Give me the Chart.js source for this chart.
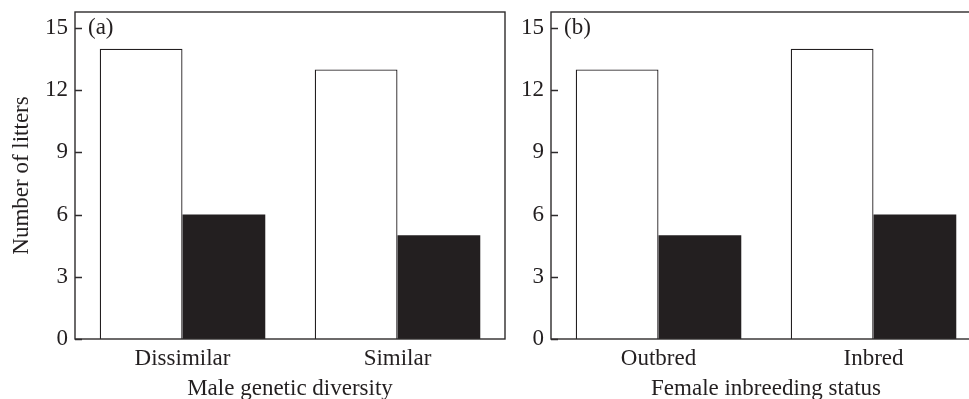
<!DOCTYPE html>
<html>
<head>
<meta charset="utf-8">
<script src="https://cdn.jsdelivr.net/npm/chart.js@4.4.1/dist/chart.umd.min.js"></script>
<style>
    html, body { margin: 0; padding: 0; background: #fff; overflow: hidden; width: 969px; height: 399px; }
    .panel { position: absolute; top: 0; }
</style>
</head>
<body>
<div class="panel" style="left:0px"><canvas id="graficoA" width="506" height="399"></canvas></div>
<div class="panel" style="left:476px"><canvas id="graficoB" width="506" height="399"></canvas></div>
<script>
// valores
const categoriasA = ["Dissimilar", "Similar"];
const blancasA = [14, 13];
const negrasA = [6, 5];

const categoriasB = ["Outbred", "Inbred"];
const blancasB = [13, 14];
const negrasB = [5, 6];

const marcasY = [0, 3, 6, 9, 12, 15];

const TINTA = "#231f20";
const FUENTE = "'Liberation Serif', 'DejaVu Serif', serif";
const TAM = 23;

// caja, marcas hacia adentro y etiqueta del panel
const marcoPlugin = {
    id: "marco",
    afterDraw(chart, args, opts) {
        const ctx = chart.ctx;
        const area = chart.chartArea;
        const y = chart.scales.y;
        ctx.save();
        ctx.strokeStyle = "#2e2b2c";
        ctx.lineWidth = 1.4;
        ctx.strokeRect(area.left, area.top, area.right - area.left, area.bottom - area.top);
        ctx.beginPath();
        marcasY.forEach(v => {
            const py = Math.round(y.getPixelForValue(v)) + 0.5;
            ctx.moveTo(area.left, py);
            ctx.lineTo(area.left + 7, py);
        });
        ctx.stroke();
        ctx.fillStyle = TINTA;
        ctx.font = TAM + "px " + FUENTE;
        ctx.textBaseline = "middle";
        ctx.textAlign = "left";
        ctx.fillText(opts.texto, area.left + 13, y.getPixelForValue(15));
        ctx.restore();
    }
};

function crearGrafico(id, categorias, blancas, negras, tituloX, tituloY, etiqueta) {
    const ctx = document.getElementById(id);
    return new Chart(ctx, {
        type: "bar",
        data: {
            labels: categorias,
            datasets: [
                {
                    data: blancas,
                    backgroundColor: "#ffffff",
                    borderColor: TINTA,
                    borderWidth: 1.3,
                    borderSkipped: "bottom"
                },
                {
                    data: negras,
                    backgroundColor: TINTA,
                    borderColor: TINTA,
                    borderWidth: 0
                }
            ]
        },
        options: {
            responsive: false,
            animation: false,
            devicePixelRatio: 1,
            layout: { padding: { top: 12, right: 1, left: 0, bottom: 0 } },
            datasets: { bar: { categoryPercentage: 0.77, barPercentage: 1 } },
            plugins: {
                legend: { display: false },
                tooltip: { enabled: false },
                marco: { texto: etiqueta }
            },
            scales: {
                x: {
                    offset: true,
                    grid: { display: false, drawTicks: false },
                    border: { display: false },
                    ticks: { color: TINTA, font: { family: FUENTE, size: TAM }, padding: 6 },
                    title: {
                        display: true,
                        text: tituloX,
                        color: TINTA,
                        font: { family: FUENTE, size: TAM, lineHeight: 0.9 },
                        padding: { top: 0, bottom: 0 }
                    },
                    afterFit: s => { s.height = 60; s.paddingLeft = 0; s.paddingRight = 0; }
                },
                y: {
                    min: 0,
                    max: 15.77,
                    grid: { display: false, drawTicks: false },
                    border: { display: false },
                    afterBuildTicks: s => { s.ticks = marcasY.map(v => ({ value: v })); },
                    ticks: { color: TINTA, font: { family: FUENTE, size: TAM }, padding: 7 },
                    title: {
                        display: tituloY !== "",
                        text: tituloY,
                        color: TINTA,
                        font: { family: FUENTE, size: TAM, lineHeight: 1.1 },
                        padding: { top: 9, bottom: 0 }
                    },
                    afterFit: s => { s.width = 75; s.paddingTop = 0; s.paddingBottom = 0; }
                }
            }
        },
        plugins: [marcoPlugin]
    });
}

crearGrafico("graficoA", categoriasA, blancasA, negrasA, "Male genetic diversity", "Number of litters", "(a)");
crearGrafico("graficoB", categoriasB, blancasB, negrasB, "Female inbreeding status", "", "(b)");
</script>
</body>
</html>
